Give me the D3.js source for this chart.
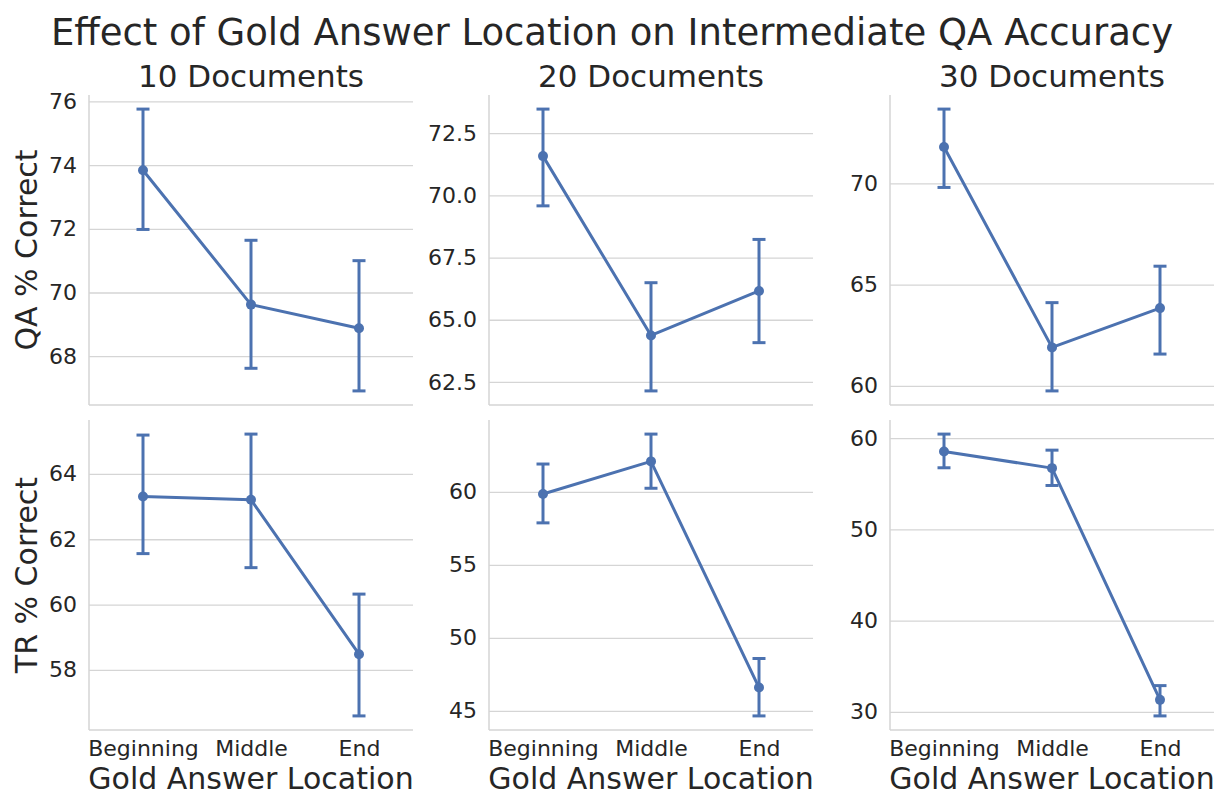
<!DOCTYPE html>
<html>
<head>
<meta charset="utf-8">
<script src="https://cdn.jsdelivr.net/npm/d3@7"></script>
<style>
  html, body { margin: 0; padding: 0; background: #ffffff; }
  svg { display: block; font-family: "DejaVu Sans", sans-serif; }
</style>
</head>
<body>
<svg id="chart" width="1221" height="796"></svg>
<script>
// Gold answer position within the context
const locations = ["Beginning", "Middle", "End"];
const docCounts = ["10 Documents", "20 Documents", "30 Documents"];
const metrics = ["QA % Correct", "TR % Correct"];

// QA accuracy: mean and 95% CI bounds per location
const qaMean10 = [73.84, 69.62, 68.88];
const qaLow10  = [71.98, 67.62, 66.91];
const qaHigh10 = [75.76, 71.64, 71.00];

const qaMean20 = [71.58, 64.37, 66.16];
const qaLow20  = [69.58, 62.14, 64.08];
const qaHigh20 = [73.47, 66.49, 68.23];

const qaMean30 = [71.80, 61.90, 63.84];
const qaLow30  = [69.80, 59.75, 61.57];
const qaHigh30 = [73.67, 64.11, 65.91];

// TR accuracy: mean and 95% CI bounds per location
const trMean10 = [63.31, 63.21, 58.48];
const trLow10  = [61.56, 61.13, 56.59];
const trHigh10 = [65.19, 65.22, 60.32];

const trMean20 = [59.86, 62.09, 46.60];
const trLow20  = [57.88, 60.25, 44.66];
const trHigh20 = [61.91, 63.96, 48.59];

const trMean30 = [58.54, 56.71, 31.32];
const trLow30  = [56.75, 54.81, 29.56];
const trHigh30 = [60.44, 58.68, 32.88];

// y tick values per panel
const qaTicks10 = [68, 70, 72, 74, 76];
const qaTicks20 = [62.5, 65.0, 67.5, 70.0, 72.5];
const qaTicks30 = [60, 65, 70];
const trTicks10 = [58, 60, 62, 64];
const trTicks20 = [45, 50, 55, 60];
const trTicks30 = [30, 40, 50, 60];

const title = "Effect of Gold Answer Location on Intermediate QA Accuracy";
const xLabel = "Gold Answer Location";

const panels = [
  [
    { mean: qaMean10, low: qaLow10, high: qaHigh10, ticks: qaTicks10, fmt: d3.format("d") },
    { mean: qaMean20, low: qaLow20, high: qaHigh20, ticks: qaTicks20, fmt: d3.format(".1f") },
    { mean: qaMean30, low: qaLow30, high: qaHigh30, ticks: qaTicks30, fmt: d3.format("d") }
  ],
  [
    { mean: trMean10, low: trLow10, high: trHigh10, ticks: trTicks10, fmt: d3.format("d") },
    { mean: trMean20, low: trLow20, high: trHigh20, ticks: trTicks20, fmt: d3.format("d") },
    { mean: trMean30, low: trLow30, high: trHigh30, ticks: trTicks30, fmt: d3.format("d") }
  ]
];

// layout
const colX = [89, 489, 890];
const panelW = 324;
const rowY = [95, 420];
const panelH = 310;

const ink = "#262626";
const lineColor = "#4c72b0";
const gridColor = "#d5d5d5";

const svg = d3.select("#chart");

svg.append("text")
  .attr("x", 612).attr("y", 45)
  .attr("text-anchor", "middle")
  .attr("font-size", 37)
  .attr("fill", ink)
  .text(title);

panels.forEach((row, r) => {
  row.forEach((p, c) => {
    const g = svg.append("g")
      .attr("transform", `translate(${colX[c]},${rowY[r]})`);

    const x = d3.scalePoint().domain(locations).range([0, panelW]).padding(0.5);
    const lo = d3.min(p.low), hi = d3.max(p.high);
    const pad = (hi - lo) * 0.05;
    const y = d3.scaleLinear().domain([lo - pad, hi + pad]).range([panelH, 0]);

    // horizontal gridlines with tick labels
    const yAxis = d3.axisLeft(y).tickValues(p.ticks).tickFormat(p.fmt)
      .tickSize(-panelW).tickPadding(12);
    const ya = g.append("g").call(yAxis);
    ya.select(".domain").remove();
    ya.selectAll(".tick line").attr("stroke", gridColor).attr("stroke-width", 1.3);
    ya.selectAll(".tick text")
      .attr("fill", ink)
      .attr("font-size", 22)
      .attr("font-family", "DejaVu Sans, sans-serif");

    // left and bottom spines
    g.append("line").attr("x1", 0).attr("x2", 0).attr("y1", 0).attr("y2", panelH)
      .attr("stroke", gridColor).attr("stroke-width", 1.5);
    g.append("line").attr("x1", 0).attr("x2", panelW).attr("y1", panelH).attr("y2", panelH)
      .attr("stroke", gridColor).attr("stroke-width", 1.5);

    // x tick labels on the bottom row only
    if (r === 1) {
      const xAxis = d3.axisBottom(x).tickSize(0).tickPadding(10.5);
      const xa = g.append("g").attr("transform", `translate(0,${panelH})`).call(xAxis);
      xa.select(".domain").remove();
      xa.selectAll(".tick text")
        .attr("fill", ink)
        .attr("font-size", 22)
        .attr("font-family", "DejaVu Sans, sans-serif");
      g.append("text")
        .attr("x", panelW / 2).attr("y", panelH + 59)
        .attr("text-anchor", "middle")
        .attr("font-size", 30)
        .attr("fill", ink)
        .text(xLabel);
    }

    // column titles on the top row
    if (r === 0) {
      g.append("text")
        .attr("x", panelW / 2).attr("y", -8)
        .attr("text-anchor", "middle")
        .attr("font-size", 31)
        .attr("fill", ink)
        .text(docCounts[c]);
    }

    // row labels on the left column
    if (c === 0) {
      g.append("text")
        .attr("transform", `translate(-52,${panelH / 2}) rotate(-90)`)
        .attr("text-anchor", "middle")
        .attr("font-size", 30)
        .attr("fill", ink)
        .text(metrics[r]);
    }

    const pts = locations.map((loc, i) => ({
      loc, mean: p.mean[i], low: p.low[i], high: p.high[i]
    }));

    // confidence interval bars with caps
    const capHalf = 6.5;
    const eb = g.append("g").attr("stroke", lineColor).attr("stroke-width", 3)
      .attr("stroke-linecap", "butt");
    eb.selectAll("line.ci").data(pts).join("line").attr("class", "ci")
      .attr("x1", d => x(d.loc)).attr("x2", d => x(d.loc))
      .attr("y1", d => y(d.low)).attr("y2", d => y(d.high));
    eb.selectAll("line.capHi").data(pts).join("line").attr("class", "capHi")
      .attr("x1", d => x(d.loc) - capHalf).attr("x2", d => x(d.loc) + capHalf)
      .attr("y1", d => y(d.high)).attr("y2", d => y(d.high));
    eb.selectAll("line.capLo").data(pts).join("line").attr("class", "capLo")
      .attr("x1", d => x(d.loc) - capHalf).attr("x2", d => x(d.loc) + capHalf)
      .attr("y1", d => y(d.low)).attr("y2", d => y(d.low));

    // mean line and markers
    const line = d3.line().x(d => x(d.loc)).y(d => y(d.mean));
    g.append("path").datum(pts)
      .attr("d", line)
      .attr("fill", "none")
      .attr("stroke", lineColor)
      .attr("stroke-width", 3)
      .attr("stroke-linejoin", "round");
    g.selectAll("circle.pt").data(pts).join("circle").attr("class", "pt")
      .attr("cx", d => x(d.loc)).attr("cy", d => y(d.mean))
      .attr("r", 5)
      .attr("fill", lineColor);
  });
});
</script>
</body>
</html>
